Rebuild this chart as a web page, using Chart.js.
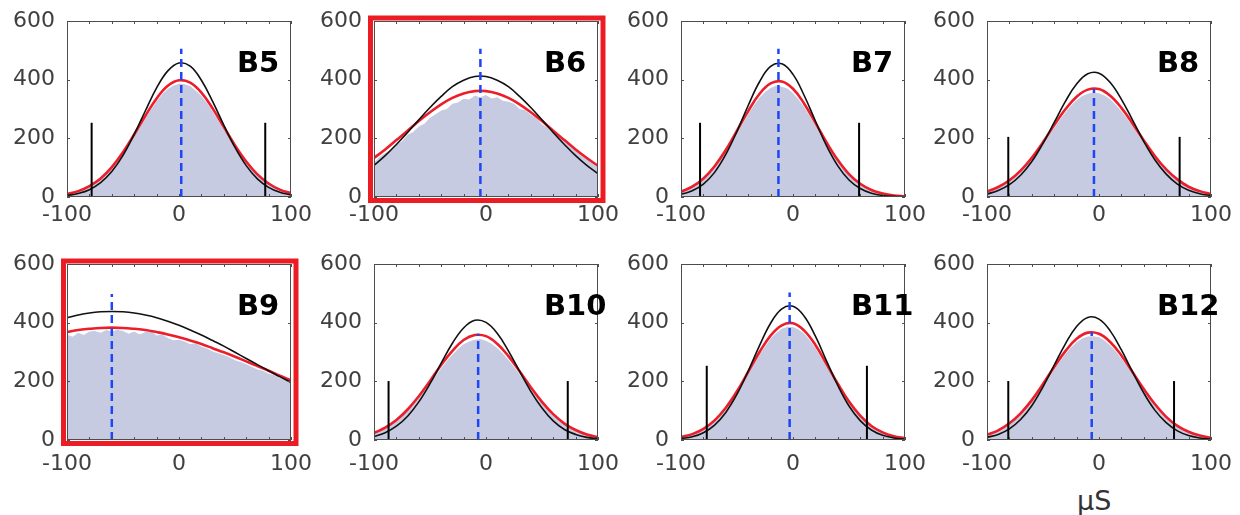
<!DOCTYPE html>
<html lang="en">
<head>
    <meta charset="UTF-8">
    <title>Histograms B5 - B12</title>
    <script src="https://cdn.jsdelivr.net/npm/chart.js"></script>
    <style>
        body { margin: 0; background: #fff; width: 1240px; height: 515px; position: relative; overflow: hidden; }
        canvas { position: absolute; }
        #unit { position: absolute; left: 1077px; top: 487px; font-family: 'DejaVu Sans'; font-size: 27px; line-height: 1; color: #333; }
    </style>
</head>
<body>
    <div id="unit">μS</div>
    <script>
        // x positions of histogram samples and fitted curve samples
        const histX = [-100, -95, -90, -85, -80, -75, -70, -65, -60, -55, -50, -45, -40, -35, -30, -25, -20, -15, -10, -5, 0,
                       5, 10, 15, 20, 25, 30, 35, 40, 45, 50, 55, 60, 65, 70, 75, 80, 85, 90, 95, 100];
        const curveX = [-100, -90, -80, -70, -60, -50, -40, -30, -20, -10, 0, 10, 20, 30, 40, 50, 60, 70, 80, 90, 100];

        const panelNames = ['B5', 'B6', 'B7', 'B8', 'B9', 'B10', 'B11', 'B12'];
        const highlighted = ['B6', 'B9'];

        // histogram counts
        const histB5 = [10, 14, 19, 26, 36, 47, 61, 79, 99, 122, 148, 177, 207, 238, 268, 298, 326, 350, 368, 380, 386, 384, 378, 362, 344, 320, 292, 262, 231, 200, 170, 142, 117, 94, 74, 58, 44, 33, 24, 17, 12];
        const histB6 = [118, 136, 150, 160, 178, 190, 212, 222, 240, 250, 270, 282, 295, 300, 318, 322, 335, 332, 345, 340, 348, 336, 340, 328, 325, 318, 300, 296, 280, 270, 248, 236, 218, 205, 188, 172, 158, 142, 128, 114, 100];
        const histB7 = [16, 24, 33, 45, 60, 79, 101, 126, 155, 186, 218, 250, 283, 312, 338, 358, 372, 380, 376, 370, 354, 332, 306, 276, 243, 210, 178, 148, 120, 96, 75, 57, 43, 31, 22, 16, 11, 7, 5, 3, 2];
        const histB8 = [17, 24, 32, 42, 55, 70, 87, 107, 130, 155, 181, 209, 236, 263, 288, 311, 330, 344, 352, 356, 354, 346, 333, 314, 292, 268, 241, 213, 186, 159, 134, 111, 91, 73, 57, 44, 34, 25, 19, 14, 10];
        const histB9 = [360, 352, 366, 358, 370, 372, 366, 375, 370, 376, 372, 362, 370, 360, 368, 372, 356, 360, 348, 340, 342, 336, 326, 330, 318, 312, 302, 296, 290, 282, 272, 266, 258, 250, 240, 236, 226, 222, 212, 206, 198];
        const histB10 = [22, 30, 40, 51, 65, 81, 99, 120, 143, 167, 193, 219, 245, 269, 291, 310, 326, 336, 342, 344, 338, 328, 314, 295, 273, 249, 224, 198, 172, 148, 125, 103, 85, 68, 54, 42, 32, 24, 18, 13, 9];
        const histB11 = [9, 13, 19, 27, 37, 49, 65, 84, 107, 132, 161, 192, 225, 258, 290, 319, 345, 365, 379, 386, 385, 377, 362, 340, 314, 283, 251, 218, 186, 155, 127, 102, 80, 62, 47, 35, 25, 18, 12, 8, 6];
        const histB12 = [16, 23, 31, 42, 54, 70, 88, 108, 131, 157, 184, 212, 240, 268, 293, 315, 333, 346, 353, 354, 350, 339, 323, 302, 278, 251, 223, 195, 167, 141, 117, 96, 77, 61, 47, 36, 27, 20, 14, 10, 7];

        // black fitted curves
        const blackB5 = [5, 12, 25, 49, 87, 142, 214, 294, 372, 430, 457, 446, 398, 326, 245, 169, 107, 62, 33, 16, 7];
        const blackB6 = [108, 141, 179, 220, 263, 305, 343, 376, 398, 411, 411, 398, 376, 343, 305, 263, 220, 179, 141, 108, 80];
        const blackB7 = [9, 21, 44, 84, 145, 224, 312, 392, 445, 454, 418, 346, 259, 174, 106, 58, 29, 13, 5, 2, 1];
        const blackB8 = [10, 22, 42, 74, 121, 183, 254, 326, 385, 420, 422, 390, 333, 262, 189, 126, 78, 44, 23, 11, 5];
        const blackB9 = [417, 426, 433, 437, 438, 437, 433, 426, 417, 405, 391, 375, 358, 339, 320, 299, 278, 257, 236, 216, 196];
        const blackB10 = [12, 25, 47, 81, 130, 192, 262, 330, 382, 408, 401, 364, 304, 234, 166, 109, 65, 36, 19, 9, 4];
        const blackB11 = [5, 11, 25, 51, 94, 156, 235, 321, 398, 447, 456, 422, 354, 269, 186, 116, 66, 34, 16, 7, 3];
        const blackB12 = [9, 19, 38, 70, 117, 181, 255, 328, 387, 418, 412, 372, 307, 232, 160, 101, 59, 31, 15, 7, 3];

        // red fitted curves
        const redB5 = [10, 20, 37, 63, 102, 153, 213, 277, 336, 379, 398, 390, 356, 302, 239, 176, 121, 77, 46, 25, 13];
        const redB6 = [133, 162, 194, 226, 259, 289, 316, 338, 353, 361, 361, 353, 338, 316, 289, 259, 226, 194, 162, 133, 106];
        const redB7 = [18, 35, 63, 105, 160, 226, 293, 351, 387, 394, 369, 318, 253, 186, 126, 78, 45, 24, 12, 5, 2];
        const redB8 = [19, 34, 57, 90, 134, 187, 245, 299, 342, 366, 368, 345, 304, 250, 193, 139, 94, 60, 35, 20, 10];
        const redB9 = [368, 375, 379, 382, 383, 382, 379, 375, 368, 360, 350, 339, 327, 313, 299, 284, 268, 252, 236, 219, 203];
        const redB10 = [24, 42, 68, 104, 149, 201, 256, 304, 341, 358, 354, 328, 286, 234, 180, 130, 88, 56, 34, 19, 10];
        const redB11 = [10, 20, 38, 67, 110, 166, 232, 299, 356, 391, 398, 373, 324, 259, 192, 131, 83, 48, 26, 13, 6];
        const redB12 = [18, 33, 57, 91, 136, 191, 249, 303, 345, 366, 362, 334, 288, 231, 174, 122, 79, 48, 28, 15, 7];

        // blue dashed mean marker and black limit bars
        const meanX = [2, -5, -13, -4.5, -60, -7, -3, -6.5];
        const meanTop = [505, 505, 505, 368, 498, 362, 503, 367];
        const limitLow = [-78, null, -83, -81, null, -87, -77, -81];
        const limitHigh = [77, null, 59, 72, null, 73, 66, 67];
        const limitTop = [253, null, 253, 205, null, 201, 253, 201];

        const hists = [histB5, histB6, histB7, histB8, histB9, histB10, histB11, histB12];
        const blacks = [blackB5, blackB6, blackB7, blackB8, blackB9, blackB10, blackB11, blackB12];
        const reds = [redB5, redB6, redB7, redB8, redB9, redB10, redB11, redB12];

        // layout of the plot areas on the page
        const colLeft = [67, 374, 681, 987];
        const rowTop = [21, 264];
        const plotW = 224, plotH = 176;
        const axisW = 62, padTop = 15, padRight = 26, axisH = 40;
        const tickFont = { family: 'DejaVu Sans', size: 22 };

        // axes box, inward ticks, panel name and red highlight frame
        const boxPlugin = {
            id: 'box',
            afterDraw: (chart, args, opts) => {
                const ctx = chart.ctx;
                const a = chart.chartArea;
                const xs = chart.scales.x, ys = chart.scales.y;
                ctx.save();
                ctx.strokeStyle = '#4d4d4d';
                ctx.lineWidth = 1;
                ctx.strokeRect(a.left + 0.5, a.top + 0.5, a.width - 1, a.height - 1);
                ctx.beginPath();
                xs.ticks.forEach(t => {
                    const px = Math.round(xs.getPixelForValue(t.value)) + 0.5;
                    ctx.moveTo(px, a.bottom); ctx.lineTo(px, a.bottom - 3);
                    ctx.moveTo(px, a.top); ctx.lineTo(px, a.top + 3);
                });
                ys.ticks.forEach(t => {
                    const py = Math.round(ys.getPixelForValue(t.value)) + 0.5;
                    ctx.moveTo(a.left, py); ctx.lineTo(a.left + 3, py);
                    ctx.moveTo(a.right, py); ctx.lineTo(a.right - 3, py);
                });
                ctx.stroke();

                ctx.fillStyle = '#000';
                ctx.font = 'bold 29px "DejaVu Sans"';
                ctx.textAlign = 'left';
                ctx.textBaseline = 'middle';
                ctx.fillText(opts.name, a.left + 170, a.top + 43);

                if (opts.highlight) {
                    ctx.strokeStyle = 'rgb(236, 28, 36)';
                    ctx.lineWidth = 5;
                    ctx.strokeRect(a.left - 3.5, a.top - 3, a.width + 8.5, a.height + 6.5);
                }
                ctx.restore();
            }
        };

        function makePanel(i) {
            const row = Math.floor(i / 4), col = i % 4;
            const canvas = document.createElement('canvas');
            canvas.width = axisW + plotW + padRight;
            canvas.height = padTop + plotH + axisH;
            canvas.style.left = (colLeft[col] - axisW) + 'px';
            canvas.style.top = (rowTop[row] - padTop) + 'px';
            document.body.appendChild(canvas);

            const datasets = [];
            datasets.push({
                data: [{ x: meanX[i], y: 0 }, { x: meanX[i], y: meanTop[i] }],
                borderColor: 'rgb(30, 70, 245)', borderWidth: 2.5, borderDash: [8, 5], pointRadius: 0
            });
            if (limitLow[i] !== null) {
                [limitLow[i], limitHigh[i]].forEach(v => {
                    datasets.push({
                        data: [{ x: v, y: 0 }, { x: v, y: limitTop[i] }],
                        borderColor: '#000', borderWidth: 2, pointRadius: 0
                    });
                });
            }
            datasets.push({
                data: curveX.map((x, k) => ({ x: x, y: blacks[i][k] })),
                borderColor: '#111', borderWidth: 1.6, pointRadius: 0, tension: 0.4
            });
            datasets.push({
                data: curveX.map((x, k) => ({ x: x, y: reds[i][k] })),
                borderColor: 'rgb(236, 30, 42)', borderWidth: 2.6, pointRadius: 0, tension: 0.4
            });
            datasets.push({
                data: histX.map((x, k) => ({ x: x, y: hists[i][k] })),
                fill: 'origin', backgroundColor: 'rgb(199, 203, 226)', borderWidth: 0, pointRadius: 0, tension: 0
            });

            new Chart(canvas.getContext('2d'), {
                type: 'line',
                data: { datasets: datasets },
                options: {
                    responsive: false,
                    animation: false,
                    devicePixelRatio: 1,
                    layout: { padding: { top: padTop, right: padRight, left: 0, bottom: 0 } },
                    plugins: {
                        legend: { display: false },
                        tooltip: { enabled: false },
                        box: { name: panelNames[i], highlight: highlighted.includes(panelNames[i]) }
                    },
                    scales: {
                        x: {
                            type: 'linear', min: -100, max: 100,
                            grid: { display: false, drawTicks: false },
                            border: { display: false },
                            ticks: {
                                stepSize: 20, autoSkip: false, maxRotation: 0,
                                padding: row === 0 ? 5 : 11,
                                color: '#404040', font: tickFont,
                                callback: v => (v % 100 === 0 ? v : '')
                            },
                            afterFit: s => { s.height = axisH; s.paddingLeft = 0; s.paddingRight = 0; }
                        },
                        y: {
                            min: 0, max: 600,
                            grid: { display: false, drawTicks: false },
                            border: { display: false },
                            ticks: { stepSize: 200, padding: 12, color: '#404040', font: tickFont },
                            afterFit: s => { s.width = axisW; s.paddingTop = 0; s.paddingBottom = 0; }
                        }
                    }
                },
                plugins: [boxPlugin]
            });
        }

        for (let i = 0; i < panelNames.length; i++) makePanel(i);
    </script>
</body>
</html>
